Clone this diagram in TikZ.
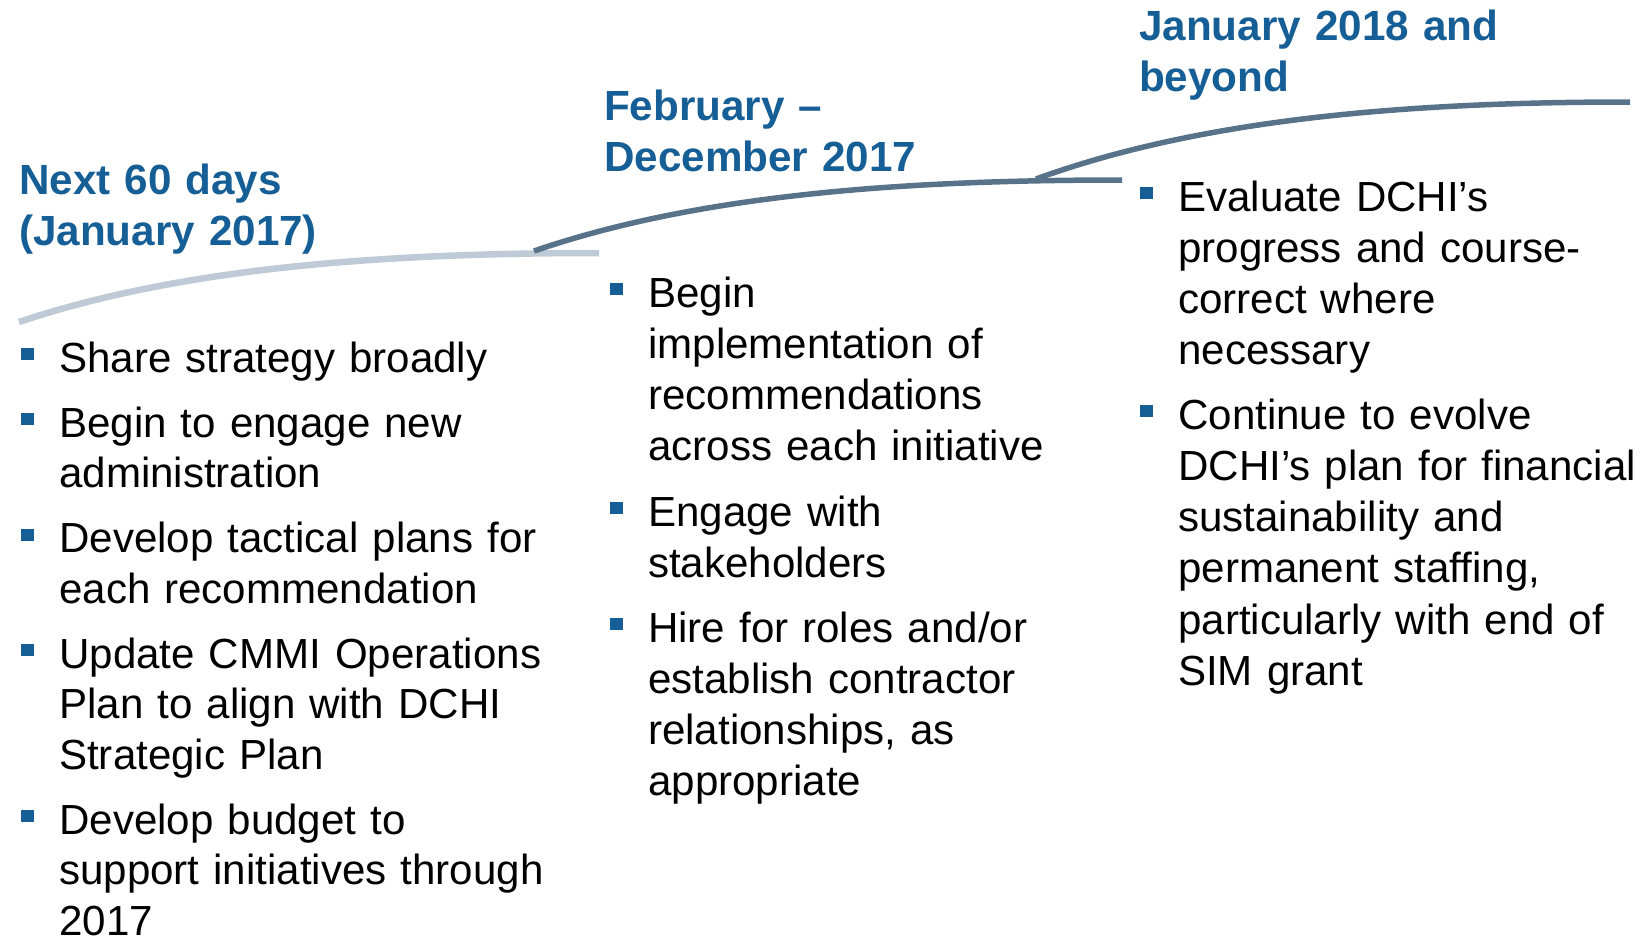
\documentclass[tikz,border=0pt]{standalone}
\usepackage{fontspec}
\setmainfont{Liberation Sans}
\definecolor{hblue}{RGB}{22,94,150}
\definecolor{lightline}{RGB}{190,202,214}
\definecolor{darkline}{RGB}{88,115,137}
\tikzset{
  heading/.style={anchor=base west, inner sep=0pt, text width=600pt, align=left, text=hblue,
    font=\fontsize{42.2}{51}\selectfont\bfseries},
  item/.style={anchor=base west, inner sep=0pt, text width=560pt, align=left, text=black,
    font=\fontsize{42.1}{50.5}\selectfont},
  itemwide/.style={item, font=\fontsize{42.1}{51.3}\selectfont},
  bulletsq/.style={fill=hblue},
  lightcurve/.style={draw=lightline, line width=6.5pt},
  darkcurve/.style={draw=darkline, line width=5.5pt}
}
\newcommand{\bulletat}[1]{\fill[bulletsq] ([shift={(-38,-24)}]#1.base west) rectangle ++(13,12);}
\begin{document}
\begin{tikzpicture}[x=1pt,y=-1pt]
\useasboundingbox (0,0) rectangle (1649,938);
% timeline curves
\coordinate (c1s) at (19,322);
\coordinate (c1e) at (599,253);
\coordinate (c2s) at (534,251);
\coordinate (c2e) at (1122,180);
\coordinate (c3s) at (1036,179);
\coordinate (c3e) at (1630,102);
\draw[lightcurve] (c1s) .. controls (180,268) and (380,253) .. (c1e);
\draw[darkcurve] (c2s) .. controls (697,195) and (900,180) .. (c2e);
\draw[darkcurve] (c3s) .. controls (1201,119) and (1406,102) .. (c3e);
% headings
\node[heading] (h1) at (19,194) {Next 60 days\\(January 2017)};
\node[heading] (h2) at (604,120) {February --\\December 2017};
\node[heading] (h3) at (1139,40) {January 2018 and\\beyond};
% column 1
\node[item] (a1) at (59,372) {Share strategy broadly};
\node[item] (a2) at (59,437) {Begin to engage new\\administration};
\node[item] (a3) at (59,552.5) {Develop tactical plans for\\each recommendation};
\node[item] (a4) at (59,668) {Update CMMI Operations\\Plan to align with DCHI\\Strategic Plan};
\node[item] (a5) at (59,834) {Develop budget to\\support initiatives through\\2017};
% column 2
\node[itemwide] (b1) at (648,307) {Begin\\implementation of\\recommendations\\across each initiative};
\node[itemwide] (b2) at (648,526) {Engage with\\stakeholders};
\node[itemwide] (b3) at (648,642) {Hire for roles and/or\\establish contractor\\relationships, as\\appropriate};
% column 3
\node[itemwide] (d1) at (1178,211) {Evaluate DCHI’s\\progress and course-\\correct where\\necessary};
\node[itemwide] (d2) at (1178,429) {Continue to evolve\\DCHI’s plan for financial\\sustainability and\\permanent staffing,\\particularly with end of\\SIM grant};
% bullets
\foreach \n in {a1,a2,a3,a4,a5,b1,b2,b3,d1,d2} {\bulletat{\n}}
\end{tikzpicture}
\end{document}
